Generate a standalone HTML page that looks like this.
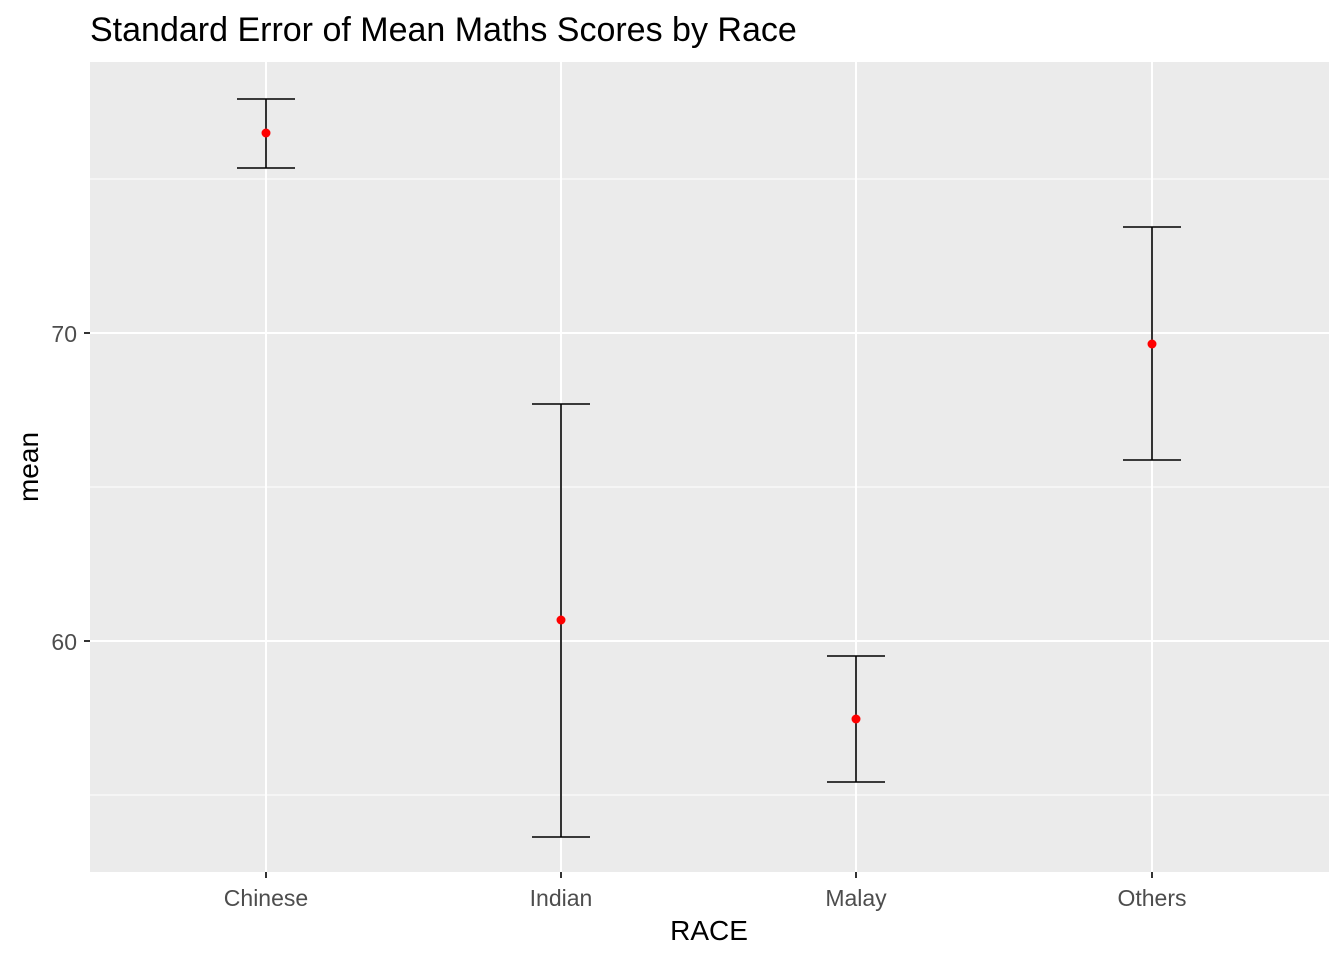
<!DOCTYPE html>
<html><head><meta charset="utf-8"><style>body{margin:0;background:#fff}</style></head>
<body>
<svg width="1344" height="960" xmlns="http://www.w3.org/2000/svg" font-family="Liberation Sans, sans-serif">
<rect x="0" y="0" width="1344" height="960" fill="#fff"/>
<rect x="90" y="62" width="1239" height="810" fill="#ebebeb"/>
<g stroke="#fff" stroke-width="1">
<line x1="90" x2="1329" y1="179" y2="179"/>
<line x1="90" x2="1329" y1="487" y2="487"/>
<line x1="90" x2="1329" y1="795" y2="795"/>
</g>
<g stroke="#fff" stroke-width="2">
<line x1="90" x2="1329" y1="333" y2="333"/>
<line x1="90" x2="1329" y1="641" y2="641"/>
<line x1="266" x2="266" y1="62" y2="872"/>
<line x1="561" x2="561" y1="62" y2="872"/>
<line x1="856" x2="856" y1="62" y2="872"/>
<line x1="1152" x2="1152" y1="62" y2="872"/>
</g>
<g stroke="#000" stroke-width="1.6" fill="none">
<path d="M237 99H295M266 99V168M237 168H295"/>
<path d="M532 404H590M561 404V837M532 837H590"/>
<path d="M827 656H885M856 656V782M827 782H885"/>
<path d="M1123 227H1181M1152 227V460M1123 460H1181"/>
</g>
<g fill="#f00">
<circle cx="266" cy="133" r="4.5"/>
<circle cx="561" cy="620" r="4.5"/>
<circle cx="856" cy="719" r="4.5"/>
<circle cx="1152" cy="344" r="4.5"/>
</g>
<g stroke="#333" stroke-width="2">
<line x1="84" x2="90" y1="333" y2="333"/>
<line x1="84" x2="90" y1="641" y2="641"/>
<line x1="266" x2="266" y1="872" y2="878"/>
<line x1="561" x2="561" y1="872" y2="878"/>
<line x1="856" x2="856" y1="872" y2="878"/>
<line x1="1152" x2="1152" y1="872" y2="878"/>
</g>
<g fill="#4d4d4d" font-size="23">
<text x="77" y="342" text-anchor="end">70</text>
<text x="77" y="650" text-anchor="end">60</text>
<text x="266" y="906" text-anchor="middle">Chinese</text>
<text x="561" y="906" text-anchor="middle">Indian</text>
<text x="856" y="906" text-anchor="middle">Malay</text>
<text x="1152" y="906" text-anchor="middle">Others</text>
</g>
<text x="709" y="940" text-anchor="middle" font-size="28" fill="#000">RACE</text>
<text transform="translate(38,467) rotate(-90)" text-anchor="middle" font-size="28" fill="#000">mean</text>
<text x="90" y="41" font-size="34" fill="#000">Standard Error of Mean Maths Scores by Race</text>
</svg>
</body></html>
